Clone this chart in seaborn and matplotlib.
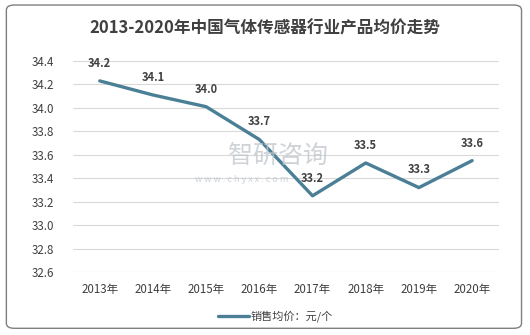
import matplotlib
matplotlib.use("Agg")
import matplotlib.pyplot as plt
import seaborn as sns
import pandas as pd
from matplotlib.patches import FancyBboxPatch

years = ["2013年", "2014年", "2015年", "2016年", "2017年", "2018年", "2019年", "2020年"]
prices = [34.23, 34.11, 34.01, 33.73, 33.25, 33.53, 33.32, 33.55]
labels = ["34.2", "34.1", "34.0", "33.7", "33.2", "33.5", "33.3", "33.6"]
yticks = [32.6, 32.8, 33.0, 33.2, 33.4, 33.6, 33.8, 34.0, 34.2, 34.4]
title = "2013-2020年中国气体传感器行业产品均价走势"
series_name = "销售均价：元/个"

sns.set_theme(style="white")
plt.rcParams['font.family'] = ['Noto Sans CJK SC', 'DejaVu Sans']

df = pd.DataFrame({"year": years, "price": prices})

fig = plt.figure(figsize=(5.3, 3.35), dpi=100)
ax = fig.add_axes([0.138, 0.188, 0.803, 0.630])

line_color = "#4A7F96"
sns.lineplot(data=df, x="year", y="price", ax=ax, color=line_color, linewidth=2.4,
             sort=False, label=series_name, legend=False)

ax.set_ylim(32.6, 34.4)
ax.set_yticks(yticks)
ax.set_yticklabels([f"{v:.1f}" for v in yticks])
ax.set_xlim(-0.5, len(years) - 0.5)
ax.grid(axis="y", color="#D9D9D9", linewidth=0.8)
ax.set_axisbelow(True)
for s in ax.spines.values():
    s.set_visible(False)
ax.set_xlabel("")
ax.set_ylabel("")
ax.tick_params(axis="both", length=0, labelsize=8.3, labelcolor="#404040")
ax.tick_params(axis="x", pad=8)
ax.tick_params(axis="y", pad=14)

for i, (v, t) in enumerate(zip(prices, labels)):
    ax.annotate(t, (i, v), xytext=(0, 8), textcoords="offset points",
                ha="center", va="bottom", fontsize=8, fontweight="bold", color="#404040")

# watermark
fig.text(0.43, 0.535, "智研咨询", fontsize=18, color="#BFC5CB", ha="left", va="center", alpha=0.75)
fig.text(0.368, 0.463, "w w w . c h y x x . c o m", fontsize=6.5, color="#BFC5CB", ha="left", va="center", alpha=0.75)

fig.text(0.5, 0.915, title, ha="center", va="center", fontsize=12, fontweight="bold", color="#404040")

leg = fig.legend(loc="center", bbox_to_anchor=(0.52, 0.055), frameon=False, fontsize=8,
                 handlelength=2.8, handletextpad=0.1)
for t in leg.get_texts():
    t.set_color("#404040")

border = FancyBboxPatch((0.012, 0.02), 0.972, 0.965, boxstyle="round,pad=0,rounding_size=0.015",
                        transform=fig.transFigure, fill=False, edgecolor="#7F7F7F", linewidth=1.0)
fig.patches.append(border)

fig.savefig("out.png", dpi=100)
